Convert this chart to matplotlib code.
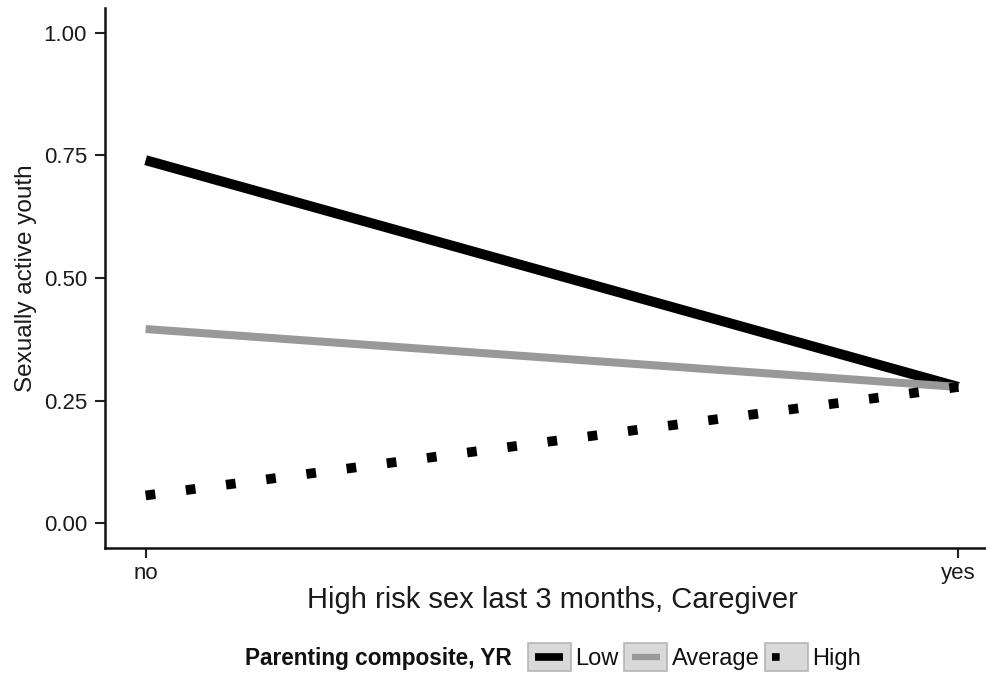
import matplotlib
matplotlib.use("Agg")
import matplotlib.pyplot as plt
from matplotlib.lines import Line2D
from matplotlib.patches import Rectangle
from matplotlib.legend_handler import HandlerBase

plt.rcParams['font.family'] = ['Liberation Sans', 'DejaVu Sans']

x_labels = ["no", "yes"]
x_pos = [0, 1]
series_names = ["Low", "Average", "High"]
low_vals = [0.74, 0.278]
avg_vals = [0.396, 0.278]
high_vals = [0.057, 0.278]
y_ticks = [0.00, 0.25, 0.50, 0.75, 1.00]

fig = plt.figure(figsize=(9.86, 6.73), dpi=100)
W, H = 986, 673
ax = fig.add_axes([105 / W, 1 - 548 / H, (999 - 105) / W, (548 - 8) / H])

l_low, = ax.plot(x_pos, low_vals, color='black', lw=7.2, solid_capstyle='butt', zorder=1)
l_avg, = ax.plot(x_pos, avg_vals, color='#999999', lw=5.8, solid_capstyle='butt', zorder=2)
l_high, = ax.plot(x_pos, high_vals, color='black', lw=7.0, linestyle=(0, (1, 3.17)),
                  dash_capstyle='butt', zorder=3)

ax.set_xlim(-0.05, 1.05)
ax.set_ylim(-0.05, 1.05)
ax.set_xticks(x_pos)
ax.set_xticklabels(x_labels)
ax.set_yticks(y_ticks)
ax.set_yticklabels([f"{v:.2f}" for v in y_ticks])
ax.tick_params(axis='both', length=7, width=1.5, color='#222222', labelsize=16,
               labelcolor='#1a1a1a')
ax.tick_params(axis='y', pad=6)
ax.tick_params(axis='x', pad=4)
for s in ['top', 'right']:
    ax.spines[s].set_visible(False)
for s in ['left', 'bottom']:
    ax.spines[s].set_linewidth(1.8)
    ax.spines[s].set_color('#111111')

ax.set_xlabel("High risk sex last 3 months, Caregiver", fontsize=21, color='#1a1a1a', labelpad=1)
ax.set_ylabel("Sexually active youth", fontsize=17.5, color='#1a1a1a', labelpad=5)


class KeyHandler(HandlerBase):
    def __init__(self, lw, ls, **kw):
        super().__init__(**kw)
        self.lw = lw
        self.ls = ls

    def create_artists(self, legend, orig_handle, xdescent, ydescent, width, height,
                       fontsize, trans):
        x0, y0 = -xdescent, -ydescent
        rect = Rectangle((x0, y0), width, height, facecolor='#d9d9d9', edgecolor='#b5b5b5',
                         lw=1.2, transform=trans)
        m = 0.17 * width
        ln = Line2D([x0 + m, x0 + width - m], [y0 + height / 2] * 2,
                    color=orig_handle.get_color(), lw=self.lw, linestyle=self.ls,
                    solid_capstyle='butt', dash_capstyle='butt', transform=trans)
        return [rect, ln]


handlers = {
    l_low: KeyHandler(5.5, '-'),
    l_avg: KeyHandler(4.5, '-'),
    l_high: KeyHandler(5.5, (0, (1, 8))),
}

fig.text(245 / W, 1 - 659 / H, "Parenting composite, YR", fontsize=16.3, fontweight='bold',
         va='center', ha='left', color='#111111')
leg = fig.legend([l_low, l_avg, l_high], series_names, ncol=3, handler_map=handlers,
                 loc='center left', bbox_to_anchor=(528 / W, 1 - 657 / H),
                 frameon=False, fontsize=17, handlelength=1.8, handleheight=1.45,
                 handletextpad=0.2, columnspacing=0.25, borderpad=0, borderaxespad=0)
for t in leg.get_texts():
    t.set_color('#111111')

fig.savefig("out.png", dpi=100)
